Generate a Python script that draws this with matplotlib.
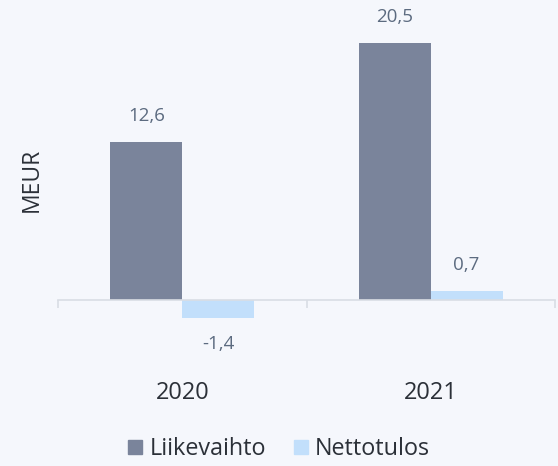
import numpy as np
import matplotlib.pyplot as plt
from matplotlib.patches import Patch

years = ["2020", "2021"]
liikevaihto = [12.6, 20.5]
nettotulos = [-1.4, 0.7]
series_names = ["Liikevaihto", "Nettotulos"]

BG = "#f5f7fc"
DARK = "#7a849b"
LIGHT = "#c2dffb"
LABEL_COL = "#5c6b80"
TEXT_COL = "#2b3038"

plt.rcParams['font.family'] = ['Open Sans', 'DejaVu Sans']

fig = plt.figure(figsize=(5.58, 4.66), dpi=100, facecolor=BG)
ax = fig.add_axes([0.104, 0.2704, 0.8906, 0.7081], facecolor=BG)

x = np.arange(len(years))
w = 0.289
b1 = ax.bar(x - w / 2, liikevaihto, w, color=DARK, label=series_names[0])
b2 = ax.bar(x + w / 2, nettotulos, w, color=LIGHT, label=series_names[1])

# value labels with Finnish decimal comma
for bars in (b1, b2):
    for rect in bars:
        v = rect.get_height()
        xc = rect.get_x() + rect.get_width() / 2
        off = 19 if v >= 0 else -19
        ax.annotate(f"{v:.1f}".replace(".", ","), (xc, v), xytext=(0, off),
                    textcoords="offset points", ha="center", va="center",
                    fontsize=13.5, color=LABEL_COL)

ax.set_xlim(-0.5, 1.5)
ax.set_ylim(-3.19, 23.13)

for s in ["top", "right", "left"]:
    ax.spines[s].set_visible(False)
ax.spines["bottom"].set_position(("data", 0))
ax.spines["bottom"].set_color("#d9dde4")
ax.spines["bottom"].set_linewidth(1.2)
ax.set_yticks([])

ax.set_xticks(x)
ax.set_xticklabels(years, fontsize=17, color=TEXT_COL)
ax.tick_params(axis="x", which="major", length=0, pad=58)
ax.set_xticks([-0.5, 0.5, 1.5], minor=True)
ax.tick_params(axis="x", which="minor", length=6, width=1.2, color="#d9dde4",
               direction="out")

ax.set_ylabel("MEUR", fontsize=16.5, color=TEXT_COL)
ax.yaxis.set_label_coords(-0.028, 0.485)

handles = [Patch(color=DARK), Patch(color=LIGHT)]
fig.legend(handles, series_names, loc="lower center", bbox_to_anchor=(0.5, -0.035),
           ncol=2, frameon=False, fontsize=16.8, handlelength=0.6, handleheight=0.6,
           handletextpad=0.3, columnspacing=1.2, labelcolor=TEXT_COL)

fig.savefig("out.png", dpi=100, facecolor=BG)
